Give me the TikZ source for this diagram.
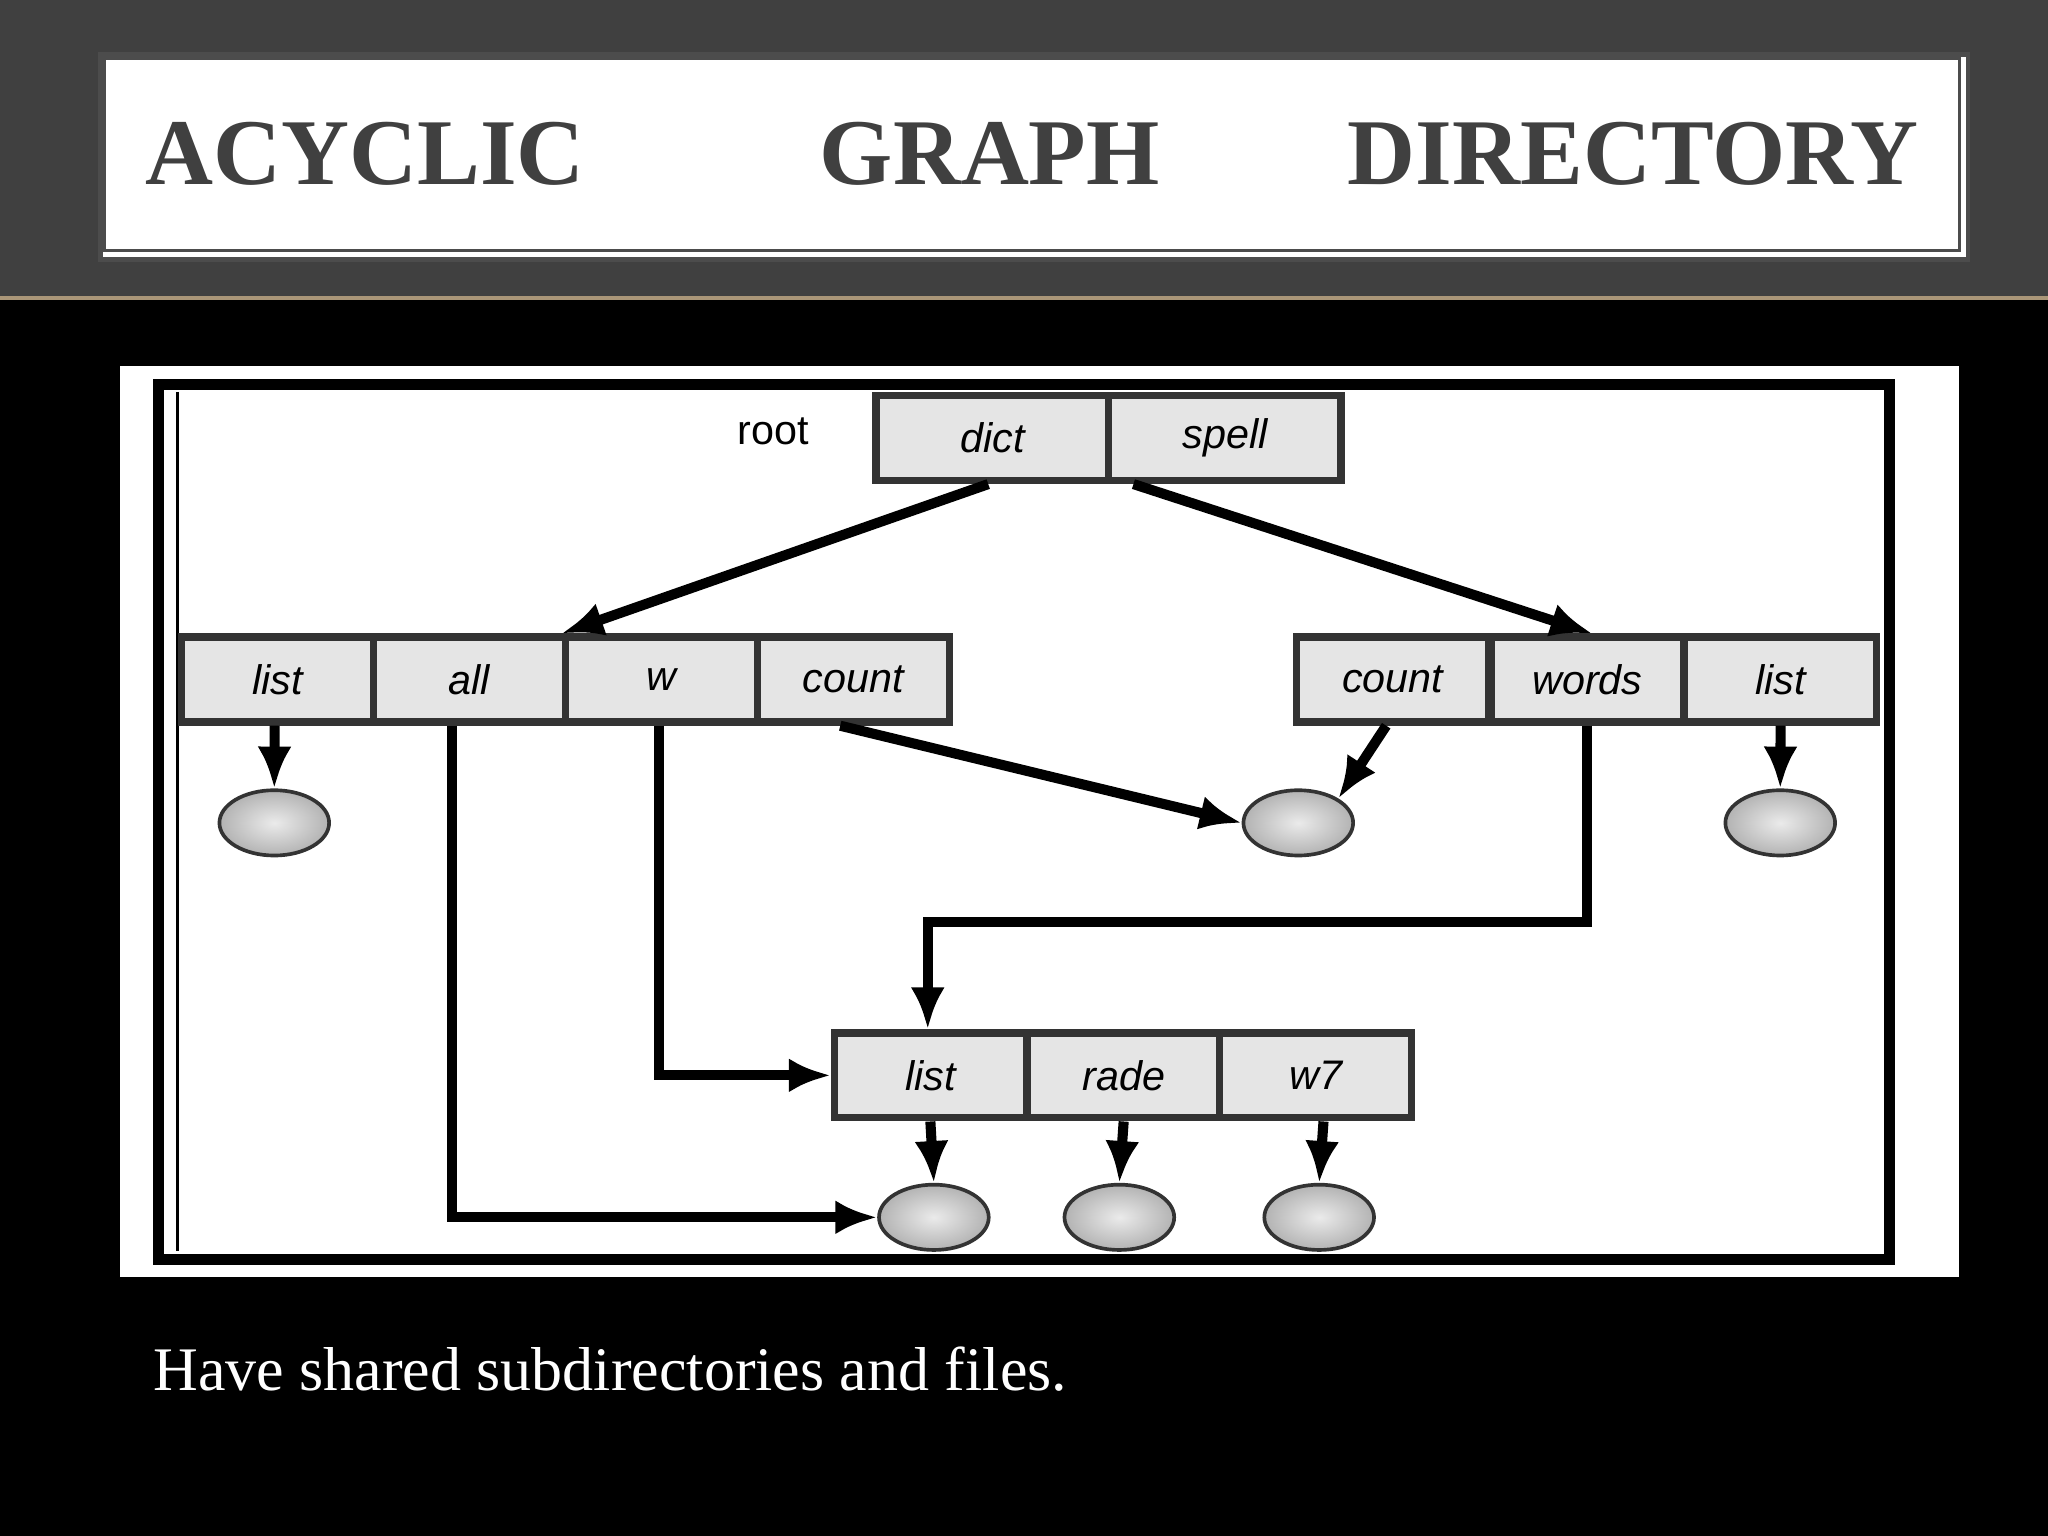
\documentclass[tikz,border=0pt]{standalone}
\usepackage{fontspec}
\setmainfont{Liberation Serif}
\newfontfamily\boxfont{Liberation Sans}
\usetikzlibrary{arrows.meta,shapes.geometric}
\begin{document}
\begin{tikzpicture}[x=0.1mm,y=-0.1mm,
  cell/.style={draw=black!80,line width=1.6pt,fill=black!10,minimum width=14.7mm,minimum height=6.5mm,inner sep=0pt,anchor=north west,font=\boxfont\itshape\fontsize{9}{10}\selectfont},
  leaf/.style={draw=black!80,line width=0.8pt,ellipse,inner color=black!8,outer color=black!30,minimum width=8.4mm,minimum height=5mm,inner sep=0pt},
  arr/.style={line width=2.2pt,-{Latex[length=3.2mm,width=2.6mm]}}]
\useasboundingbox (0,0) rectangle (1568,1176);
\fill[black] (0,0) rectangle (1568,1176);
\fill[black!75] (0,0) rectangle (1568,228);
\draw[color={rgb,255:red,170;green,150;blue,120},line width=1pt] (0,228)--(1568,228);
\node[draw=black!70,line width=1pt,fill=white,minimum width=143mm,minimum height=15.7mm,anchor=north west,inner sep=0pt] (tb) at (75,40) {};
\draw[black!70,line width=0.6pt] (80,45) rectangle (1500,192);
\node[text=black!75,font=\bfseries\fontsize{20.5}{24}\selectfont] (title) at (790,118) {ACYCLIC\hspace{2.5em}GRAPH\hspace{2em}DIRECTORY};
\fill[white] (92,280) rectangle (1500,978);
\draw[line width=2.4pt] (121,294) rectangle (1447,964);
\draw[line width=0.8pt] (136,300) -- (136,958);
\node[font=\boxfont\fontsize{9}{10}\selectfont] (rootl) at (592,330) {root};
\node[cell,minimum width=17.8mm] (dict) at (668,300) {dict};
\node[cell,minimum width=17.8mm] (spell) at (846,300) {spell};
\node[cell] (l1) at (136,485) {list};
\node[cell] (all) at (283,485) {all};
\node[cell] (w) at (430,485) {w};
\node[cell] (c1) at (577,485) {count};
\node[cell] (c2) at (990,485) {count};
\node[cell] (words) at (1139,485) {words};
\node[cell] (l2) at (1287,485) {list};
\node[cell] (l3) at (636,788) {list};
\node[cell] (rade) at (784,788) {rade};
\node[cell] (w7) at (931,788) {w7};
\node[leaf] (e1) at (210,630) {};
\node[leaf] (e2) at (994,630) {};
\node[leaf] (e3) at (1363,630) {};
\node[leaf] (e4) at (715,932) {};
\node[leaf] (e5) at (857,932) {};
\node[leaf] (e6) at (1010,932) {};
\draw[arr] ([xshift=-9.5mm]dict.south east) -- (w.north west);
\draw[arr] ([xshift=-7mm]spell.south) -- ([xshift=8mm]words.north west);
\draw[arr] ([xshift=-0.2mm]l1.south) -- (e1.north);
\draw[arr] ([xshift=-1mm]c1.south) -- (e2.west);
\draw[arr] ([xshift=-0.5mm]c2.south) -- (e2.north east);
\draw[arr] (l2.south) -- (e3.north);
\draw[arr] (words.south) -- ++(0,150) -| ([xshift=-0.2mm]l3.north);
\draw[arr] ([xshift=-0.2mm]w.south) |- (l3.west);
\draw[arr] ([xshift=-1.3mm]all.south) |- (e4.west);
\draw[arr] (l3.south) -- (e4.north);
\draw[arr] (rade.south) -- (e5.north);
\draw[arr] ([xshift=0.6mm]w7.south) -- (e6.north);
\node[text=white,anchor=west,font=\fontsize{13.5}{16}\selectfont] (cap) at (105,1048) {Have shared subdirectories and files.};
\end{tikzpicture}
\end{document}
